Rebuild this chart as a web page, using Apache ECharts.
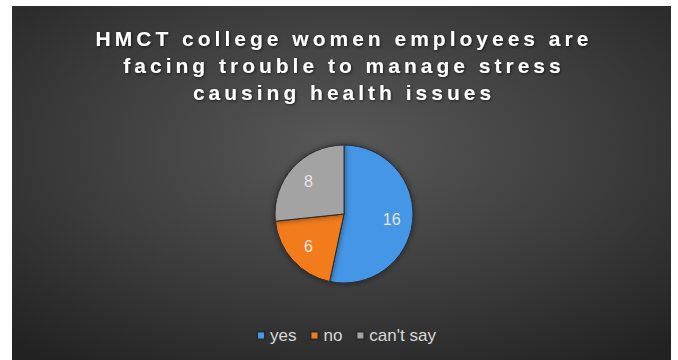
<!DOCTYPE html>
<html><head><meta charset="utf-8">
<script src="https://cdn.jsdelivr.net/npm/echarts@6/dist/echarts.min.js"></script>
<style>html,body{margin:0;padding:0;background:#fff}#c{width:678px;height:360px}
#c svg text[style*="21px"]{letter-spacing:4px}</style>
</head><body><div id="c"></div>
<script>
var categories = ["yes", "no", "can't say"];
var values = [16, 6, 8];
var colors = ["#4596e6", "#f27c1c", "#a3a3a3"];
var titleLines = ["HMCT college women employees are", "facing trouble to manage stress", "causing health issues"];

var chart = echarts.init(document.getElementById('c'), null, {renderer: 'svg'});
var data = categories.map(function (c, i) { return {name: c, value: values[i], itemStyle: {color: colors[i]}}; });
var option = {
  animation: false,
  backgroundColor: '#ffffff',
  graphic: [{
    type: 'rect', z: -10, silent: true,
    shape: {x: 12, y: 6, width: 659, height: 354},
    style: {fill: {type: 'radial', x: 0.5, y: 0.4, r: 0.75,
      colorStops: [{offset: 0, color: '#585858'}, {offset: 0.55, color: '#3c3c3c'}, {offset: 1, color: '#222222'}]}}
  }],
  title: {
    text: titleLines.join('\n'), left: 339, textAlign: 'center', top: 20,
    textStyle: {color: '#ffffff', fontFamily: 'Liberation Sans', fontWeight: 'bold', fontSize: 21, lineHeight: 27,
      textShadowColor: 'rgba(0,0,0,0.6)', textShadowBlur: 3, textShadowOffsetX: 1, textShadowOffsetY: 1}
  },
  legend: {
    data: categories, top: 322, left: 251, itemWidth: 8, itemHeight: 8, itemGap: 13,
    icon: 'rect', textStyle: {color: '#d9d9d9', fontFamily: 'Liberation Sans', fontSize: 17}
  },
  series: [{
    type: 'pie', center: [344, 214], radius: [0, 69], startAngle: 90, clockwise: true,
    data: data, label: {show: false}, labelLine: {show: false},
    itemStyle: {borderColor: '#2a2a2a', borderWidth: 1, shadowColor: 'rgba(0,0,0,0.5)', shadowBlur: 6},
    emphasis: {disabled: true}
  }, {
    type: 'pie', center: [344, 214], radius: [20, 70], startAngle: 90, clockwise: true, silent: true,
    data: data.map(function (d) { return {name: d.name, value: d.value}; }),
    itemStyle: {color: 'rgba(0,0,0,0)'},
    label: {show: true, position: 'inside', formatter: '{c}', color: '#e6e6e6', fontFamily: 'Liberation Sans', fontSize: 16},
    labelLine: {show: false}, legendHoverLink: false, emphasis: {disabled: true}, tooltip: {show: false}
  }]
};
chart.setOption(option);
</script></body></html>
